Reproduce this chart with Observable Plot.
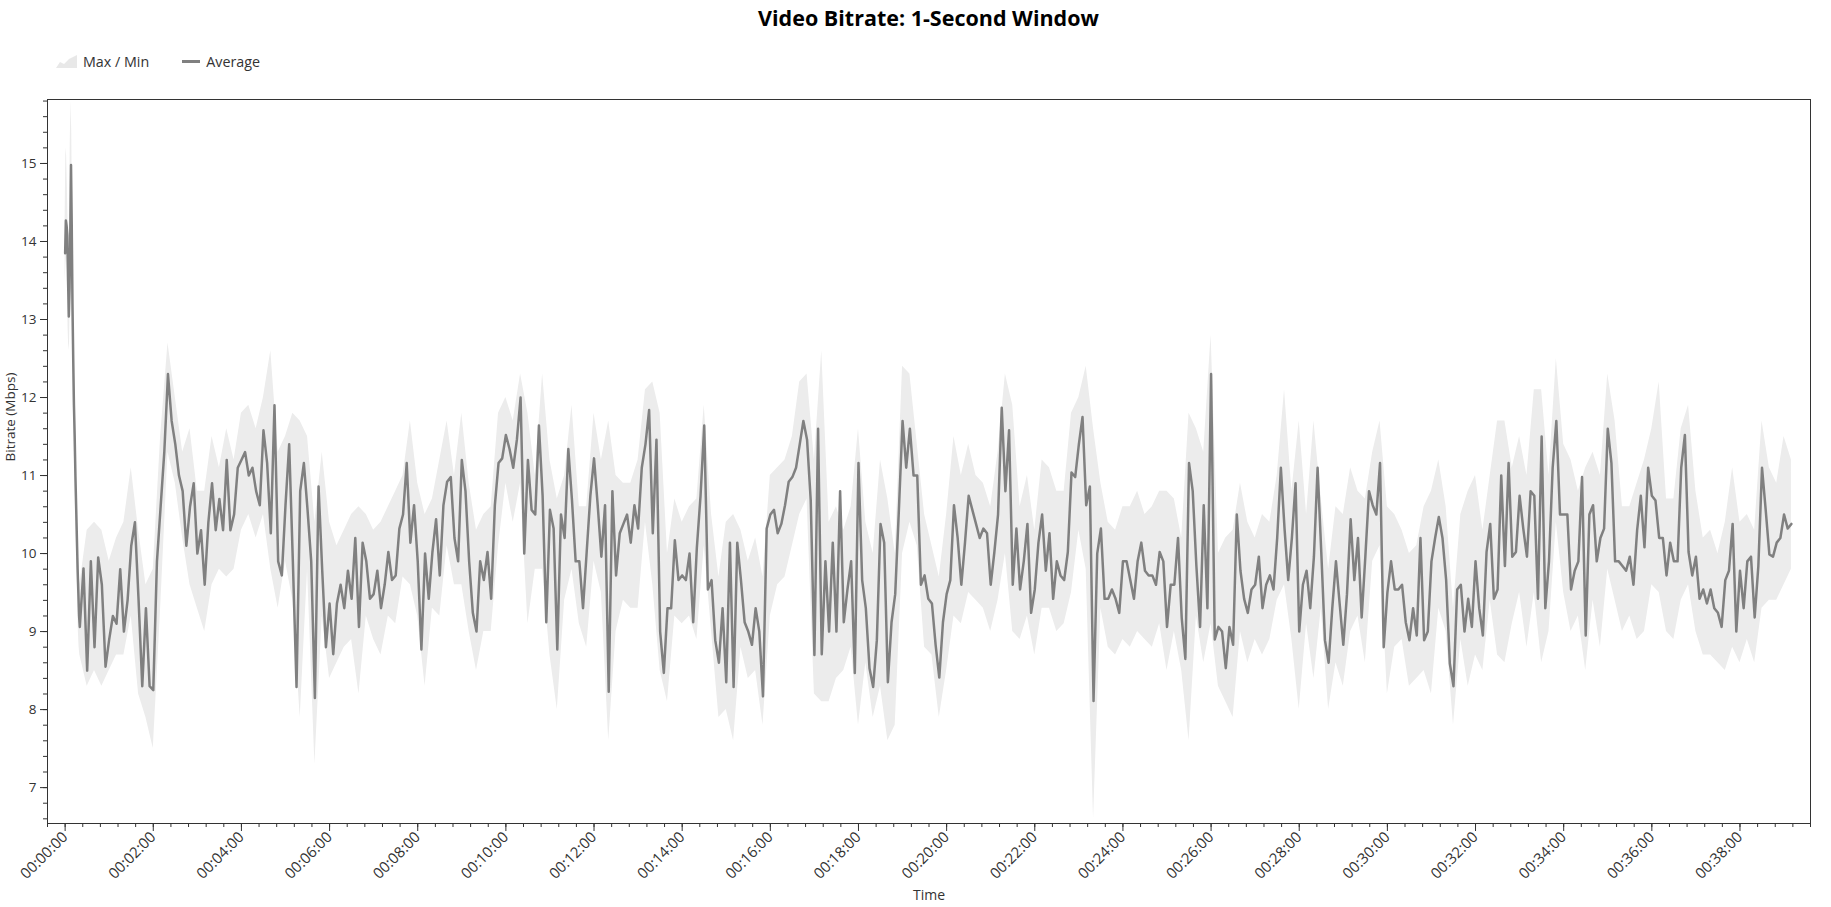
<!DOCTYPE html>
<html>
<head>
<meta charset="utf-8">
<script src="https://cdn.jsdelivr.net/npm/d3@7"></script>
<script src="https://cdn.jsdelivr.net/npm/@observablehq/plot@0.6"></script>
<style>
  html, body { margin: 0; padding: 0; background: #fff; }
  body { width: 1831px; height: 907px; overflow: hidden; position: relative; font-family: "Open Sans", "Noto Sans", sans-serif; }
  #title { position: absolute; left: 47px; top: 3px; width: 1763px; text-align: center; font-weight: 700; font-size: 21.5px; color: #000; }
  #legend { position: absolute; left: 56px; top: 51px; height: 20px; display: flex; align-items: center; font-size: 14.3px; color: #333; }
  #legend span { margin-left: 6px; }
  #chart { position: absolute; left: 0; top: 80px; }
  #chart svg g[aria-label="x-axis tick label"] { font-size: 15px; }
  #chart svg g[aria-label="y-axis tick label"] { font-size: 13.5px; }
</style>
</head>
<body>
<div id="title">Video Bitrate: 1-Second Window</div>
<div id="legend">
  <svg width="21" height="13"><path d="M0,13 L4,7 L8,9 L13,4 L21,0 L21,13 Z" fill="#e8e8e8"/></svg><span>Max / Min</span>
  <svg width="18" height="3" style="margin-left:33px"><rect width="18" height="3" fill="#808080"/></svg><span>Average</span>
</div>
<div id="chart"></div>
<script>
// ---- Data (Mbps) ----
// first 20 seconds, 1-second steps
const headSecs = [0,1,2,3,4,5,6,7,8,9,10,11,12,13,14,15,16,17,18,19];
const headAvg = [13.85,14.27,14.2,14.08,13.5,13.04,13.4,14.1,14.98,14.2,13.2,12.5,11.9,11.5,11.0,10.6,10.2,9.8,9.5,9.2];
const headMax = [14.3,15.2,15.1,14.7,14.2,13.8,14.3,15.3,15.8,15.4,14.3,13.0,12.3,11.9,11.4,11.0,10.6,10.3,10.0,9.8];
const headMin = [13.5,13.7,13.8,13.6,12.9,12.6,12.7,13.3,14.2,13.4,12.6,12.0,11.5,11.1,10.6,10.2,9.8,9.4,9.0,8.8];

// average, 5-second steps, segment start seconds
const avgStarts = [20, 255, 530, 795, 1060, 1325, 1590, 1855];
const avgA = [9.06,9.81,8.5,9.9,8.8,9.95,9.6,8.55,8.9,9.2,9.1,9.8,9.0,9.4,10.1,10.4,9.4,8.3,9.3,8.3,8.25,9.9,10.6,11.3,12.3,11.7,11.4,11.0,10.8,10.1,10.6,10.9,10.0,10.3,9.6,10.4,10.9,10.3,10.7,10.3,11.2,10.3,10.5,11.1,11.2,11.3,11.0];
const avgB = [11.10,10.80,10.62,11.58,11.16,10.26,11.9,9.9,9.72,10.62,11.4,9.9,8.29,10.80,11.16,10.56,9.9,8.15,10.86,9.78,8.8,9.36,8.71,9.36,9.60,9.30,9.78,9.42,10.2,9.06,10.14,9.90,9.42,9.48,9.78,9.30,9.60,10.02,9.66,9.72,10.32,10.50,11.16,10.14,10.62,9.9,8.77,10.0,9.42,10.02,10.44,9.72,10.62,10.92,10.98];
const avgC = [10.2,9.9,11.2,10.8,9.9,9.24,9.0,9.9,9.66,10.02,9.42,10.62,11.16,11.22,11.52,11.34,11.10,11.46,12.0,10.0,11.2,10.56,10.50,11.64,10.74,9.12,10.56,10.32,8.77,10.50,10.2,11.34,10.68,9.9,9.9,9.30,10.02,10.74,11.22,10.62,9.96,10.62,8.23,10.8,9.72,10.26,10.38,10.5,10.14,10.62,10.32,11.10,11.40];
const avgD = [11.84,10.26,11.46,9.0,8.47,9.30,9.30,10.17,9.66,9.72,9.66,10.0,9.12,10.08,10.74,11.64,9.54,9.66,8.89,8.6,9.30,8.35,10.14,8.29,10.14,9.66,9.12,9.0,8.83,9.30,9.0,8.17,10.32,10.50,10.56,10.26,10.38,10.62,10.92,10.98,11.10,11.40,11.70,11.46,10.68,8.7,11.6,8.71,9.9,9.0,10.14,9.0,10.8];
const avgE = [9.12,9.54,9.90,8.47,11.16,9.66,9.30,8.53,8.29,8.89,10.38,10.14,8.35,9.12,9.48,10.56,11.7,11.10,11.6,11.0,11.0,9.6,9.72,9.42,9.36,8.83,8.41,9.12,9.48,9.66,10.62,10.2,9.6,10.14,10.74,10.56,10.38,10.2,10.32,10.26,9.6,10.02,10.5,11.87,10.8,11.58,9.6,10.32,9.54,9.9,10.38,9.24,9.54];
const avgF = [10.14,10.50,9.78,10.26,9.42,9.90,9.72,9.66,10.02,11.04,10.98,11.40,11.75,10.62,10.86,8.11,10.0,10.32,9.42,9.42,9.54,9.42,9.24,9.90,9.90,9.66,9.42,9.90,10.14,9.78,9.72,9.72,9.60,10.02,9.90,9.06,9.60,9.60,10.20,9.18,8.65,11.16,10.80,9.84,9.06,10.62,9.3,12.3,8.9,9.06,9.0,8.53,9.06];
const avgG = [8.83,10.50,9.78,9.42,9.24,9.54,9.60,9.96,9.30,9.60,9.72,9.54,10.2,11.10,10.32,9.66,10.2,10.9,9.0,9.6,9.78,9.30,9.96,11.1,10.02,8.89,8.6,9.30,9.9,9.36,8.83,9.48,10.44,9.66,10.2,9.18,9.96,10.80,10.62,10.50,11.16,8.8,9.5,9.90,9.54,9.54,9.60,9.12,8.89,9.30,8.95,10.2,8.89];
const avgH = [9.0,9.90,10.2,10.47,10.2,9.66,8.59,8.3,9.54,9.60,9.0,9.42,9.06,9.9,9.30,8.95,10.02,10.38,9.42,9.54,11.0,9.84,11.16,9.96,10.02,10.74,10.32,9.96,10.8,10.74,9.42,11.5,9.30,9.90,11.10,11.7,10.50,10.50,10.5,9.54,9.78,9.90,10.98,8.95,10.5,10.62,9.90,10.2,10.32,11.6,11.16,9.9,9.9,9.84,9.78,9.96,9.60,10.3,10.74,10.08,11.10,10.74,10.68,10.2,10.2,9.72,10.14,9.90,9.90,11.1,11.52,10.02,9.72,9.96,9.42,9.54,9.36,9.54,9.30,9.24,9.06,9.66,9.78,10.38,9.0,9.78,9.30,9.90,9.96,9.18,9.84,11.10,10.56,9.99,9.96,10.14,10.20,10.50,10.32,10.38];

// max / min band, 10-second steps, segment start seconds
const bandStarts = [20, 260, 530, 800, 1060, 1330, 1590, 1860];
const maxA = [9.6,10.3,10.4,10.3,9.9,10.2,10.4,11.1,10.3,9.6,9.8,11.5,12.7,12.0,11.3,11.6,10.8,10.8,11.5,11.1,11.6,11.2,11.8,11.9];
const minA = [8.7,8.3,8.5,8.3,8.5,8.7,8.7,9.2,8.2,7.9,7.5,9.3,11.3,10.9,10.2,9.6,9.3,9.0,9.6,9.8,9.7,9.8,10.3,10.5];
const maxB = [11.6,12.0,12.6,11.3,11.5,11.8,11.7,11.5,10.4,11.3,10.4,10.1,10.3,10.5,10.6,10.5,10.3,10.4,10.6,10.8,11.0,11.7,10.9,10.5,10.7,11.2,11.7];
const minB = [10.2,10.5,9.8,9.3,9.9,9.4,7.9,9.8,7.3,9.2,8.4,8.6,8.8,8.9,8.2,9.2,8.9,8.7,9.2,9.1,9.7,9.6,9.2,8.3,9.3,9.2,10.1];
const maxC = [11.0,11.8,10.9,10.3,10.5,10.6,11.8,12.0,11.7,12.3,11.8,11.0,12.3,11.2,10.7,11.0,11.9,10.6,10.6,11.8,11.2,11.7,11.0,10.9,10.9,11.2,12.1];
const minC = [9.6,9.6,9.0,8.5,9.0,9.0,10.1,10.9,10.4,10.9,9.1,9.8,9.8,8.7,8.0,9.4,9.8,9.1,8.8,9.9,9.5,7.6,9.0,9.4,9.3,9.3,10.4];
const maxD = [12.2,11.8,10.0,10.7,10.4,10.6,10.7,11.9,10.5,9.7,10.4,10.5,10.3,9.9,10.2,9.7,11.0,11.1,11.2,11.5,12.2,12.3,11.2,12.6,10.4,10.6];
const minD = [9.6,8.5,8.1,9.2,9.1,9.2,8.9,10.1,9.0,7.9,8.0,7.6,8.8,8.4,8.5,7.8,9.2,9.6,9.7,10.1,10.5,10.7,8.2,8.1,8.1,8.4];
const maxE = [10.3,10.6,11.6,10.4,10.0,11.2,10.7,10.0,12.4,12.3,11.4,10.5,10.1,9.7,10.5,11.5,11.0,11.4,11.0,10.9,10.6,11.3,12.3,11.9,10.6,11.0,10.3];
const minE = [8.5,8.8,7.8,8.6,7.9,8.3,7.6,7.8,10.0,10.4,10.1,8.8,8.7,7.9,8.5,9.2,9.1,9.5,9.4,9.3,9.0,9.4,10.0,9.0,8.9,9.2,8.7];
const maxF = [11.2,11.1,10.8,10.8,11.8,12.0,12.4,11.6,10.9,10.4,10.3,10.6,10.6,10.8,10.5,10.6,10.8,10.8,10.7,10.2,11.8,11.6,11.3,12.8,10.0,10.2];
const minF = [9.3,9.3,9.0,9.1,9.5,10.3,9.8,6.6,9.3,8.8,8.7,8.9,8.8,9.0,8.9,8.8,9.1,8.5,9.0,8.5,7.6,9.2,8.6,9.1,8.3,8.1];
const maxG = [10.3,10.9,10.4,10.2,10.5,10.4,11.0,12.1,10.8,11.7,10.5,11.7,10.7,9.8,10.6,10.5,11.1,10.8,10.7,11.3,11.7,10.6,10.5,10.3,10.0,10.1,10.6];
const minG = [7.9,9.0,8.6,8.9,8.7,8.9,9.4,9.6,8.9,8.0,9.1,8.4,9.3,8.0,8.6,8.3,9.0,9.2,8.6,9.9,10.1,8.2,8.8,8.9,8.3,8.4,8.5];
const maxH = [10.8,11.2,10.6,9.3,10.5,10.8,11.0,10.3,11.0,11.7,11.7,11.1,11.5,11.0,12.1,12.1,11.0,12.5,11.4,11.2,10.8,11.1,11.3,11.0,12.3,11.7,10.6,10.6,10.9,11.2,11.6,12.2,10.7,10.7,11.6,11.9,10.8,10.2,10.3,10.0,10.4,11.1,10.4,10.5,10.3,11.7,11.1,10.9,11.5,11.2];
const minH = [8.2,9.3,9.0,7.8,8.9,8.3,8.7,8.5,9.4,8.7,8.6,9.1,9.5,8.8,9.5,8.6,9.0,10.4,9.5,9.0,9.2,8.5,9.4,8.8,9.8,9.4,9.0,9.2,8.9,9.0,9.6,9.5,9.0,8.9,9.4,9.6,9.0,8.7,8.7,8.6,8.5,8.8,8.6,8.9,8.6,9.3,9.4,9.4,9.6,9.8];

// axis ticks
const xTickLabels = ["00:00:00","00:02:00","00:04:00","00:06:00","00:08:00","00:10:00","00:12:00","00:14:00","00:16:00","00:18:00","00:20:00","00:22:00","00:24:00","00:26:00","00:28:00","00:30:00","00:32:00","00:34:00","00:36:00","00:38:00"];
const yTickLabels = [7, 8, 9, 10, 11, 12, 13, 14, 15];

// ---- Build tables ----
const avgSegs = [avgA, avgB, avgC, avgD, avgE, avgF, avgG, avgH];
const maxSegs = [maxA, maxB, maxC, maxD, maxE, maxF, maxG, maxH];
const minSegs = [minA, minB, minC, minD, minE, minF, minG, minH];

const lineData = headSecs.map((t, i) => ({t, v: headAvg[i]}));
avgSegs.forEach((seg, k) => seg.forEach((v, i) => lineData.push({t: avgStarts[k] + 5 * i, v})));

const bandData = headSecs.map((t, i) => ({t, hi: headMax[i], lo: headMin[i]}));
maxSegs.forEach((seg, k) => seg.forEach((hi, i) => bandData.push({t: bandStarts[k] + 10 * i, hi, lo: minSegs[k][i]})));

const toSec = s => { const [h, m, x] = s.split(":").map(Number); return h * 3600 + m * 60 + x; };
const fmt = s => {
  const m = Math.floor(s / 60), x = Math.round(s % 60);
  return "00:" + String(m).padStart(2, "0") + ":" + String(x).padStart(2, "0");
};
const xMajor = xTickLabels.map(toSec);
const xMinor = d3.range(-24, 2377, 24);
const yMinor = d3.range(33, 80).map(k => k / 5);

const chart = Plot.plot({
  width: 1831,
  height: 827,
  marginTop: 19,
  marginBottom: 84,
  marginLeft: 47,
  marginRight: 21,
  x: {type: "linear", domain: [-24, 2376], label: null},
  y: {domain: [6.54, 15.82], label: null},
  style: {fontFamily: "'Open Sans', 'Noto Sans', sans-serif", fontSize: "12px", color: "#333", background: "#fff"},
  marks: [
    Plot.areaY(bandData, {x: "t", y1: "lo", y2: "hi", fill: "#ececec"}),
    Plot.line(lineData, {x: "t", y: "v", stroke: "#808080", strokeWidth: 2.5, strokeLinejoin: "round"}),
    Plot.frame({stroke: "#333"}),
    Plot.axisY(yMinor, {tickSize: 4, tickFormat: () => "", label: null}),
    Plot.axisY(yTickLabels, {tickSize: 7, tickPadding: 4, tickFormat: d => String(d), label: null}),
    Plot.axisX(xMinor, {tickSize: 4, tickFormat: () => "", label: null}),
    Plot.axisX(xMajor, {tickSize: 8, tickPadding: 3, tickRotate: -45, tickFormat: fmt, label: null}),
    Plot.text(["Bitrate (Mbps)"], {text: d => d, frameAnchor: "left", dx: -37, rotate: -90, fontSize: 13.5, fill: "#333"}),
    Plot.text(["Time"], {text: d => d, frameAnchor: "bottom", dy: 76, fontSize: 14, fill: "#333"})
  ]
});
document.getElementById("chart").appendChild(chart);
</script>
</body>
</html>
